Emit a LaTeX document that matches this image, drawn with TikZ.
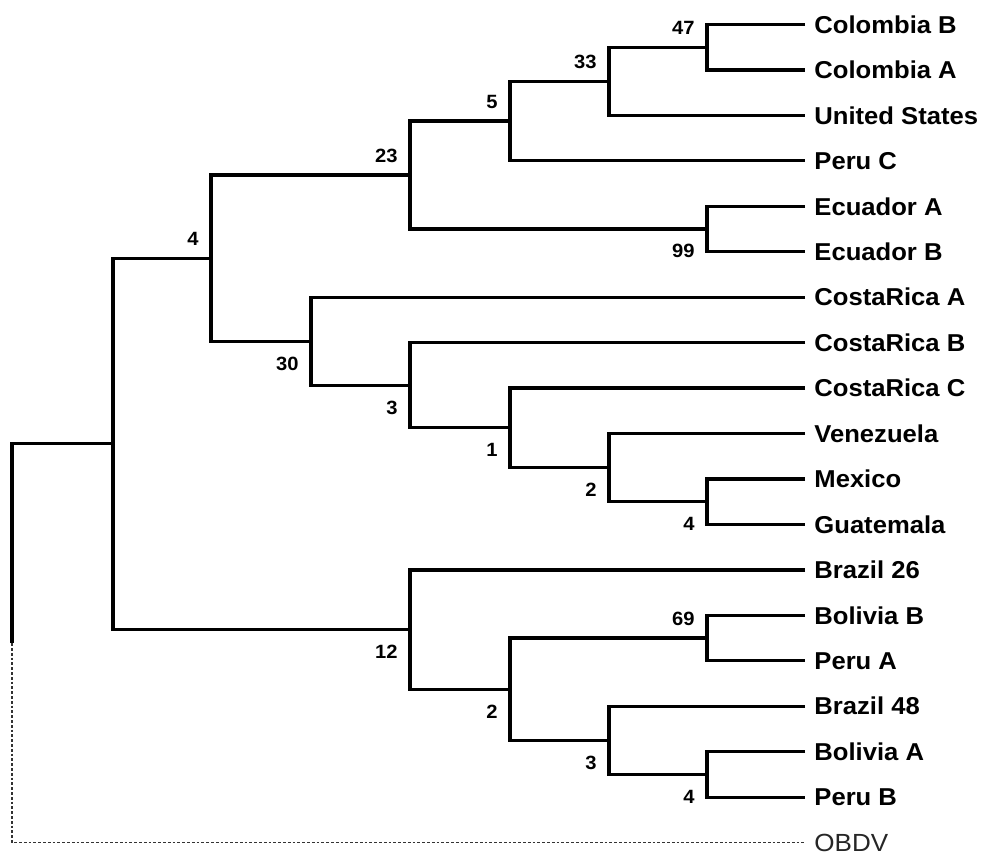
\documentclass[tikz,border=0pt]{standalone}
\usepackage{fontspec}
\setmainfont{Liberation Sans}[FakeStretch=1.05]
\usetikzlibrary{positioning}

\newcommand{\rowy}[1]{24.5+45.45*#1}

\begin{document}
\begin{tikzpicture}[x=0.5pt, y=-0.5pt,
        br/.style={draw=black, line width=1.6pt, line join=miter},
        og/.style={draw=black!80, line width=0.6pt, dash pattern=on 1.4pt off 1pt},
        lf/.style={anchor=west, inner xsep=4.5pt, inner ysep=0pt,
                   font=\bfseries\fontsize{12.2}{14}\selectfont},
        ot/.style={anchor=west, inner xsep=4.5pt, inner ysep=0pt, text=black!85,
                   font=\fontsize{12.4}{14}\selectfont},
        bs/.style={inner sep=0pt, font=\bfseries\fontsize{9.6}{11}\selectfont},
        node distance=6pt and 6pt]
      \useasboundingbox (0,0) rectangle (983,854);
      % leaves
      \node[lf] (cb)  at (805,{\rowy{0}})  {Colombia B};
      \node[lf] (ca)  at (805,{\rowy{1}})  {Colombia A};
      \node[lf] (us)  at (805,{\rowy{2}})  {United States};
      \node[lf] (pc)  at (805,{\rowy{3}})  {Peru C};
      \node[lf] (ea)  at (805,{\rowy{4}})  {Ecuador A};
      \node[lf] (eb)  at (805,{\rowy{5}})  {Ecuador B};
      \node[lf] (cra) at (805,{\rowy{6}})  {CostaRica A};
      \node[lf] (crb) at (805,{\rowy{7}})  {CostaRica B};
      \node[lf] (crc) at (805,{\rowy{8}})  {CostaRica C};
      \node[lf] (ve)  at (805,{\rowy{9}})  {Venezuela};
      \node[lf] (mx)  at (805,{\rowy{10}}) {Mexico};
      \node[lf] (gu)  at (805,{\rowy{11}}) {Guatemala};
      \node[lf] (b26) at (805,{\rowy{12}}) {Brazil 26};
      \node[lf] (bb)  at (805,{\rowy{13}}) {Bolivia B};
      \node[lf] (pa)  at (805,{\rowy{14}}) {Peru A};
      \node[lf] (b48) at (805,{\rowy{15}}) {Brazil 48};
      \node[lf] (ba)  at (805,{\rowy{16}}) {Bolivia A};
      \node[lf] (pb)  at (805,{\rowy{17}}) {Peru B};
      \node[ot] (ob)  at (805,{\rowy{18}}) {OBDV};
      % branch points
      \coordinate (root) at (12,{\rowy{13.61328}});
      \coordinate (nA)   at (113,{\rowy{9.22656}});
      \coordinate (nB)   at (211,{\rowy{5.14063}});
      \coordinate (n23)  at (410,{\rowy{3.3125}});
      \coordinate (n5)   at (510,{\rowy{2.125}});
      \coordinate (n33)  at (609,{\rowy{1.25}});
      \coordinate (n47)  at (707,{\rowy{0.5}});
      \coordinate (n99)  at (707,{\rowy{4.5}});
      \coordinate (n30)  at (311,{\rowy{6.96875}});
      \coordinate (n3)   at (410,{\rowy{7.9375}});
      \coordinate (n1)   at (510,{\rowy{8.875}});
      \coordinate (n2)   at (609,{\rowy{9.75}});
      \coordinate (n4)   at (707,{\rowy{10.5}});
      \coordinate (n12)  at (410,{\rowy{13.3125}});
      \coordinate (n2b)  at (510,{\rowy{14.625}});
      \coordinate (n69)  at (707,{\rowy{13.5}});
      \coordinate (n3b)  at (609,{\rowy{15.75}});
      \coordinate (n4b)  at (707,{\rowy{16.5}});
      % branches
      \draw[br] (root) |- (nA);
      \draw[og] (root) |- (ob.west);
      \draw[br] (nB) -| (nA) |- (n12);
      \draw[br] (n23) -| (nB) |- (n30);
      \draw[br] (n5) -| (n23) |- (n99);
      \draw[br] (n33) -| (n5) |- (pc.west);
      \draw[br] (n47) -| (n33) |- (us.west);
      \draw[br] (cb.west) -| (n47) |- (ca.west);
      \draw[br] (ea.west) -| (n99) |- (eb.west);
      \draw[br] (cra.west) -| (n30) |- (n3);
      \draw[br] (crb.west) -| (n3) |- (n1);
      \draw[br] (crc.west) -| (n1) |- (n2);
      \draw[br] (ve.west) -| (n2) |- (n4);
      \draw[br] (mx.west) -| (n4) |- (gu.west);
      \draw[br] (b26.west) -| (n12) |- (n2b);
      \draw[br] (n69) -| (n2b) |- (n3b);
      \draw[br] (bb.west) -| (n69) |- (pa.west);
      \draw[br] (b48.west) -| (n3b) |- (n4b);
      \draw[br] (ba.west) -| (n4b) |- (pb.west);
      % support values
      \node[bs, above left=of nB]  (sB)  {4};
      \node[bs, above left=of n23] (s23) {23};
      \node[bs, above left=of n5]  (s5)  {5};
      \node[bs, above left=of n33] (s33) {33};
      \node[bs, above left=of n47] (s47) {47};
      \node[bs, below left=7.5pt and 6pt of n99] (s99) {99};
      \node[bs, below left=7.5pt and 6pt of n30] (s30) {30};
      \node[bs, below left=7.5pt and 6pt of n3]  (s3)  {3};
      \node[bs, below left=7.5pt and 6pt of n1]  (s1)  {1};
      \node[bs, below left=7.5pt and 6pt of n2]  (s2)  {2};
      \node[bs, below left=7.5pt and 6pt of n4]  (s4)  {4};
      \node[bs, below left=7.5pt and 6pt of n12] (s12) {12};
      \node[bs, below left=7.5pt and 6pt of n2b] (s2b) {2};
      \node[bs, above left=of n69] (s69) {69};
      \node[bs, below left=7.5pt and 6pt of n3b] (s3b) {3};
      \node[bs, below left=7.5pt and 6pt of n4b] (s4b) {4};
    \end{tikzpicture}
\end{document}
